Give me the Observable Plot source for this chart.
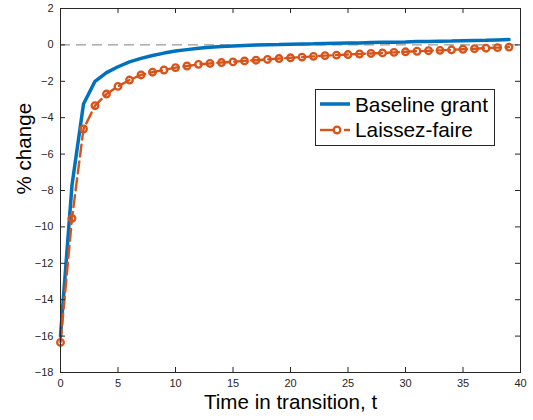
<!DOCTYPE html>
<html>
<head>
<meta charset="utf-8">
<script src="https://cdn.jsdelivr.net/npm/d3@7"></script>
<script src="https://cdn.jsdelivr.net/npm/@observablehq/plot@0.6"></script>
<style>
  body { margin: 0; background: #fff; }
  #chart { position: relative; width: 533px; height: 420px; }
</style>
</head>
<body>
<div id="chart"></div>
<script>
// Time steps of the transition
const periods = [0, 1, 2, 3, 4, 5, 6, 7, 8, 9, 10, 11, 12, 13, 14, 15, 16, 17, 18, 19,
                 20, 21, 22, 23, 24, 25, 26, 27, 28, 29, 30, 31, 32, 33, 34, 35, 36, 37, 38, 39];

// % change under the baseline grant
const baselineGrant = [-16.0, -7.7, -3.25, -2.0, -1.52, -1.2, -0.93, -0.74, -0.58, -0.45,
                       -0.34, -0.26, -0.19, -0.13, -0.09, -0.06, -0.03, -0.01, 0.01, 0.02,
                       0.04, 0.05, 0.06, 0.08, 0.09, 0.10, 0.11, 0.13, 0.14, 0.15,
                       0.16, 0.18, 0.19, 0.20, 0.21, 0.23, 0.24, 0.25, 0.27, 0.29];

// % change under laissez-faire
const laissezFaire = [-16.35, -9.53, -4.62, -3.34, -2.7, -2.28, -1.93, -1.65, -1.5, -1.38,
                      -1.25, -1.16, -1.07, -1.02, -0.97, -0.93, -0.88, -0.84, -0.80, -0.75,
                      -0.71, -0.67, -0.63, -0.59, -0.56, -0.53, -0.50, -0.47, -0.44, -0.41,
                      -0.38, -0.35, -0.32, -0.30, -0.27, -0.24, -0.21, -0.18, -0.15, -0.12];

const seriesNames = ["Baseline grant", "Laissez-faire"];
const xTicks = [0, 5, 10, 15, 20, 25, 30, 35, 40];
const yTicks = [-18, -16, -14, -12, -10, -8, -6, -4, -2, 0, 2];
const xLabel = "Time in transition, t";
const yLabel = "% change";

const blue = "#0072BD";
const orange = "#D95319";
const ink = "#262626";

const W = 533, H = 420;
const mL = 60, mR = 13, mT = 8, mB = 48;
const innerW = W - mL - mR, innerH = H - mT - mB;
const tickLen = 5;

const rowsBase = periods.map((t, i) => ({t, v: baselineGrant[i]}));
const rowsLF = periods.map((t, i) => ({t, v: laissezFaire[i]}));

const chart = Plot.plot({
  width: W,
  height: H,
  marginLeft: mL,
  marginRight: mR,
  marginTop: mT,
  marginBottom: mB,
  style: {fontFamily: "'Liberation Sans', Arial, sans-serif", fontSize: "11px", color: ink, background: "#fff"},
  x: {domain: [0, 40], ticks: xTicks, tickSize: 0, tickPadding: 7, label: null},
  y: {domain: [-18, 2], ticks: yTicks, tickSize: 0, tickPadding: 7, label: null},
  marks: [
    // zero reference
    Plot.ruleY([0], {stroke: "#808080", strokeWidth: 1, strokeDasharray: "10,6"}),
    // baseline grant path
    Plot.line(rowsBase, {x: "t", y: "v", stroke: blue, strokeWidth: 3.5, strokeLinejoin: "miter"}),
    // laissez-faire dashed path with hollow circle markers
    Plot.line(rowsLF, {x: "t", y: "v", stroke: orange, strokeWidth: 2.4, strokeDasharray: "12,5"}),
    Plot.dot(rowsLF, {x: "t", y: "v", r: 3.3, stroke: orange, strokeWidth: 2.3, fill: "none"}),
    // inward ticks on all four sides
    Plot.ruleX(xTicks, {x: d => d, stroke: ink, insetTop: innerH - tickLen}),
    Plot.ruleX(xTicks, {x: d => d, stroke: ink, insetBottom: innerH - tickLen}),
    Plot.ruleY(yTicks, {y: d => d, stroke: ink, insetRight: innerW - tickLen}),
    Plot.ruleY(yTicks, {y: d => d, stroke: ink, insetLeft: innerW - tickLen}),
    Plot.frame({stroke: ink, strokeWidth: 1}),
    // axis titles
    Plot.text([xLabel], {text: d => d, frameAnchor: "bottom", lineAnchor: "bottom", dy: 36, fontSize: 20.6, fill: "#000"}),
    Plot.text([yLabel], {text: d => d, frameAnchor: "left", rotate: -90, dx: -36, dy: 4, fontSize: 20.6, fill: "#000"})
  ]
});

// legend box inside the axes, upper right
const svg = d3.select(chart);
const lg = svg.append("g")
  .attr("font-family", "'Liberation Sans', Arial, sans-serif")
  .attr("font-size", 20.8)
  .attr("text-anchor", "start");
lg.append("rect").attr("x", 315.5).attr("y", 89.5).attr("width", 179).attr("height", 56)
  .attr("fill", "#fff").attr("stroke", ink).attr("stroke-width", 1);
lg.append("line").attr("x1", 320).attr("x2", 350).attr("y1", 104).attr("y2", 104)
  .attr("stroke", blue).attr("stroke-width", 3.5);
lg.append("text").attr("x", 355).attr("y", 111.5).attr("fill", "#000").text(seriesNames[0]);
lg.append("line").attr("x1", 320).attr("x2", 336).attr("y1", 130).attr("y2", 130)
  .attr("stroke", orange).attr("stroke-width", 2.4);
lg.append("line").attr("x1", 344).attr("x2", 350).attr("y1", 130).attr("y2", 130)
  .attr("stroke", orange).attr("stroke-width", 2.4);
lg.append("circle").attr("cx", 337).attr("cy", 130).attr("r", 3.3)
  .attr("fill", "#fff").attr("stroke", orange).attr("stroke-width", 2.3);
lg.append("text").attr("x", 355).attr("y", 137.3).attr("fill", "#000").text(seriesNames[1]);

document.getElementById("chart").append(chart);
</script>
</body>
</html>
